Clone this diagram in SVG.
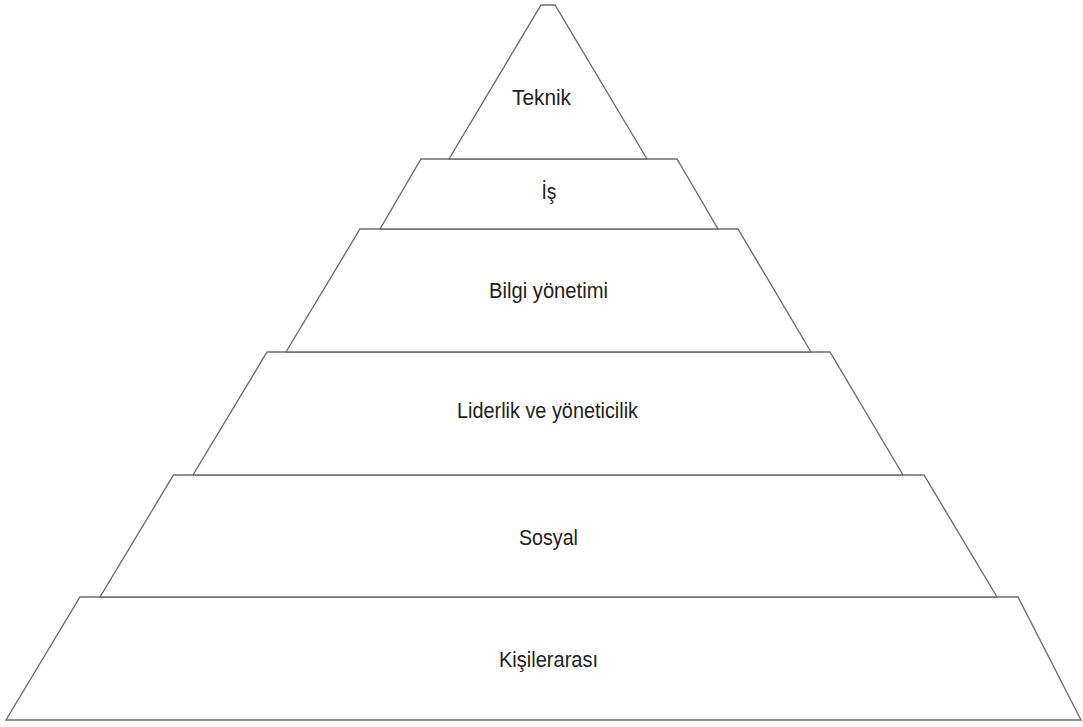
<svg xmlns="http://www.w3.org/2000/svg" width="1083" height="727" viewBox="0 0 1083 727">
<style>
.lvl{fill:#ffffff;stroke:#6f6f6f;stroke-width:1.4;stroke-linejoin:miter}
.lbl{font-family:"Liberation Sans",Arial,sans-serif;font-size:21.5px;fill:#222222;text-anchor:middle}
</style>
<rect width="1083" height="727" fill="#ffffff"/>
<g id="kisilerarasi">
<polygon class="lvl" points="80,597 1018,597 1081,720 6,720"/>
<text class="lbl" x="548.5" y="667" textLength="99" lengthAdjust="spacingAndGlyphs">Kişilerarası</text>
</g>
<g id="sosyal">
<polygon class="lvl" points="173.5,475 924,475 997,597 100,597"/>
<text class="lbl" x="548.5" y="545" textLength="59" lengthAdjust="spacingAndGlyphs">Sosyal</text>
</g>
<g id="liderlik">
<polygon class="lvl" points="267,352 830,352 903,475 193,475"/>
<text class="lbl" x="547.5" y="418" textLength="181" lengthAdjust="spacingAndGlyphs">Liderlik ve yöneticilik</text>
</g>
<g id="bilgi">
<polygon class="lvl" points="360,229 738,229 811,352 286,352"/>
<text class="lbl" x="548.5" y="298" textLength="119" lengthAdjust="spacingAndGlyphs">Bilgi yönetimi</text>
</g>
<g id="is">
<polygon class="lvl" points="421,159 677,159 718,229 380,229"/>
<text class="lbl" x="549" y="199" textLength="15" lengthAdjust="spacingAndGlyphs">İş</text>
</g>
<g id="teknik">
<polygon class="lvl" points="541,5 555,5 647,159 449,159"/>
<text class="lbl" x="541.5" y="105" textLength="59" lengthAdjust="spacingAndGlyphs">Teknik</text>
</g>
<g id="connectors"/>
</svg>
